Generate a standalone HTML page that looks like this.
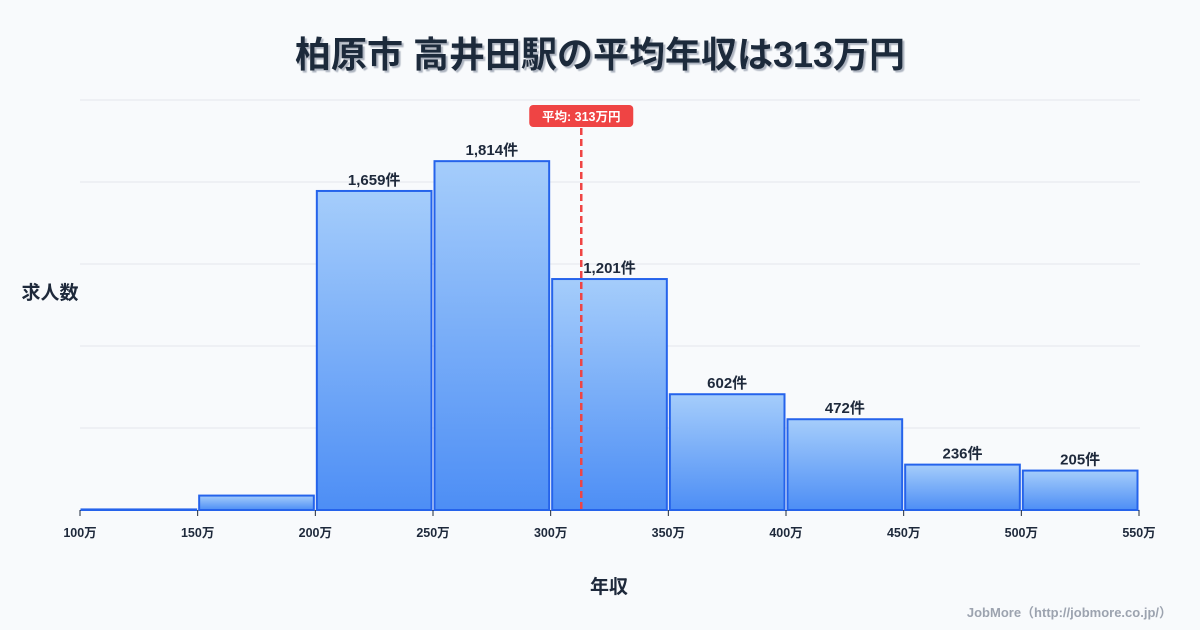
<!DOCTYPE html>
<html><head><meta charset="utf-8"><style>
body{margin:0;width:1200px;height:630px;background:#f8fafc;overflow:hidden;font-family:"Liberation Sans","Noto Sans CJK JP",sans-serif;}
</style></head><body>
<svg id="c" width="1200" height="630" style="position:absolute;left:0;top:0">
<defs><linearGradient id="g" x1="0" y1="0" x2="0" y2="1"><stop offset="0" stop-color="#a5cdfb"/><stop offset="1" stop-color="#4d8ef5"/></linearGradient>
<filter id="sh"><feDropShadow dx="2" dy="2" stdDeviation="0.5" flood-color="#9aa3b0" flood-opacity="0.8"/></filter></defs>
<text x="600" y="67" text-anchor="middle" font-size="36" font-weight="bold" fill="#1e293b" filter="url(#sh)" font-family="'Liberation Sans','Noto Sans CJK JP',sans-serif">柏原市 高井田駅の平均年収は313万円</text>
<text x="50" y="299" text-anchor="middle" font-size="19" font-weight="bold" fill="#1e293b">求人数</text>
<text x="609" y="593" text-anchor="middle" font-size="19" font-weight="bold" fill="#1e293b">年収</text>
<text x="1172" y="617" text-anchor="end" font-size="13" font-weight="bold" fill="#9ca3af">JobMore（http://jobmore.co.jp/）</text>
<g id="grid"></g><g id="bars"></g><g id="xt"></g><g id="mean"></g>
</svg>
<script>
const binStarts=[100,150,200,250,300,350,400,450,500];
const counts=[3,75,1659,1814,1201,602,472,236,205];
const showLabel=[false,false,true,true,true,true,true,true,true];
const tickLabels=["100万","150万","200万","250万","300万","350万","400万","450万","500万","550万"];
const tickValues=[100,150,200,250,300,350,400,450,500,550];
const meanValue=313;
const meanLabel="平均: 313万円";
const X0=80,X1=1139,Y0=510,Ytop=100,xmin=100,xmax=550,ymax=2132;
const ns="http://www.w3.org/2000/svg";
const xs=v=>X0+(v-xmin)/(xmax-xmin)*(X1-X0);
const ys=v=>Y0-v/ymax*(Y0-Ytop);
function mk(t,a,p){const e=document.createElementNS(ns,t);for(const k in a)e.setAttribute(k,a[k]);p.appendChild(e);return e;}
const grid=document.getElementById('grid');
for(let i=0;i<=5;i++){const y=Y0-i*(Y0-Ytop)/5;const l=mk('line',{x1:X0,x2:X1+1,y1:y,y2:y,stroke:'#e5e7eb','stroke-width':1},grid);

}
const bars=document.getElementById('bars');
binStarts.forEach((b,i)=>{const xa=xs(b)+1.5,xb=xs(b+50)-1.5,y=ys(counts[i]);
const r=mk('rect',{x:xa,y:y,width:xb-xa,height:Y0-y,fill:'url(#g)',stroke:'#2563eb','stroke-width':2},bars);


if(showLabel[i]){const t=mk('text',{x:(xa+xb)/2,y:y-6,'text-anchor':'middle','font-size':15,'font-weight':'bold',fill:'#1e293b'},bars);t.textContent=counts[i].toLocaleString('en-US')+'件';

}});
const xt=document.getElementById('xt');
tickValues.forEach((v,i)=>{const x=xs(v);mk('line',{x1:x,x2:x,y1:Y0,y2:Y0+6,stroke:'#1e293b','stroke-width':1},xt);
const t=mk('text',{x:x,y:Y0+27,'text-anchor':'middle','font-size':12.5,'font-weight':'bold',fill:'#1e293b'},xt);t.textContent=tickLabels[i];

});
const m=document.getElementById('mean');const mx=xs(meanValue);
const ml=mk('line',{x1:mx,x2:mx,y1:128,y2:Y0,stroke:'#ef4444','stroke-width':2.5,'stroke-dasharray':'7,4'},m);


const mr=mk('rect',{x:mx-52,y:105,width:104,height:22,rx:4,fill:'#ef4444'},m);


const mt=mk('text',{x:mx,y:121,'text-anchor':'middle','font-size':12.5,'font-weight':'bold',fill:'#fff'},m);mt.textContent=meanLabel;


</script>
</body></html>
